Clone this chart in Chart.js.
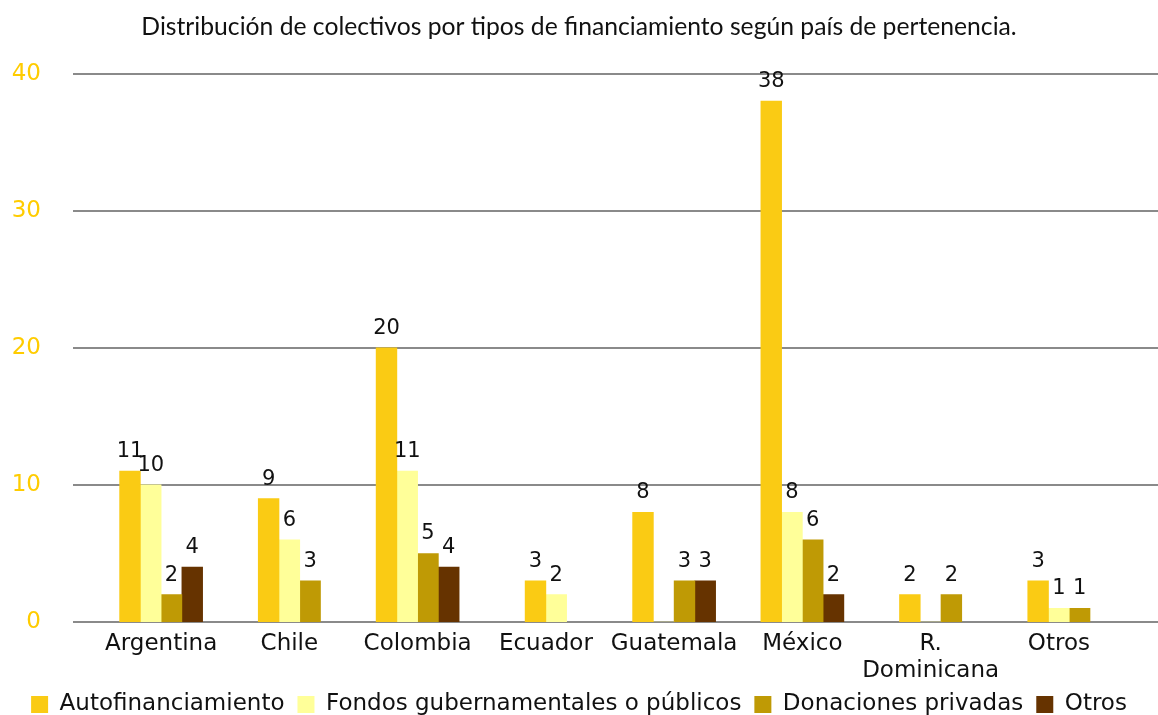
<!DOCTYPE html>
<html>
<head>
<meta charset="utf-8">
<script src="https://cdn.jsdelivr.net/npm/chart.js@4.4.1/dist/chart.umd.min.js"></script>
<style>
  html, body { margin: 0; padding: 0; background: #fff; }
  #wrap { width: 1158px; height: 715px; position: relative; }
</style>
</head>
<body>
<div id="wrap"><canvas id="chart"></canvas></div>
<script>
// Data.
// null = no bar and no slot kept (the group is re-centred), 0 = empty slot kept.
const categories = ['Argentina', 'Chile', 'Colombia', 'Ecuador', 'Guatemala', 'México', ['R.', 'Dominicana'], 'Otros'];
const autofinanciamiento = [11, 9, 20, 3, 8, 38, 2, 3];
const fondosPublicos = [10, 6, 11, 2, 0, 8, 0, 1];
const donacionesPrivadas = [2, 3, 5, null, 3, 6, 2, 1];
const otros = [4, null, 4, null, 3, 2, null, null];
const yTicks = [0, 10, 20, 30, 40];

const textFont = { family: 'DejaVu Sans', size: 23 };
const valueFont = { family: 'DejaVu Sans', size: 21 };

// horizontal grid lines run wider than the category band
const gridLines = {
  id: 'gridLines',
  beforeDatasetsDraw(chart) {
    const y = chart.scales.y;
    const ctx = chart.ctx;
    ctx.save();
    ctx.strokeStyle = '#8a8a8a';
    ctx.lineWidth = 2;
    yTicks.forEach((v) => {
      const py = Math.round(y.getPixelForValue(v));
      ctx.beginPath();
      ctx.moveTo(73, py);
      ctx.lineTo(chart.width, py);
      ctx.stroke();
    });
    ctx.restore();
  },
};

// value labels above bars, zeros left out
const valueLabels = {
  id: 'valueLabels',
  afterDatasetsDraw(chart) {
    const ctx = chart.ctx;
    ctx.save();
    ctx.font = `${valueFont.size}px ${valueFont.family}`;
    ctx.fillStyle = '#111';
    ctx.textAlign = 'center';
    ctx.textBaseline = 'alphabetic';
    chart.data.datasets.forEach((ds, i) => {
      chart.getDatasetMeta(i).data.forEach((bar, j) => {
        const v = ds.data[j];
        if (!v) return;
        ctx.fillText(String(v), bar.x, bar.y - 14);
      });
    });
    ctx.restore();
  },
};

new Chart(document.getElementById('chart'), {
  type: 'bar',
  data: {
    labels: categories,
    datasets: [
      { label: 'Autofinanciamiento', data: autofinanciamiento, backgroundColor: '#FACB14' },
      { label: 'Fondos gubernamentales o públicos', data: fondosPublicos, backgroundColor: '#FFFF99' },
      { label: 'Donaciones privadas', data: donacionesPrivadas, backgroundColor: '#BF9A05' },
      { label: 'Otros', data: otros, backgroundColor: '#663300' },
    ],
  },
  options: {
    responsive: true,
    maintainAspectRatio: false,
    animation: false,
    datasets: { bar: { barThickness: 20.75, skipNull: true } },
    layout: { padding: { top: 0, right: 0, bottom: -11, left: 0 } },
    scales: {
      x: {
        grid: { display: false },
        border: { display: false },
        ticks: { color: '#111', font: textFont, padding: 0, maxRotation: 0, autoSkip: false },
        afterFit: (s) => { s.height = 58; },
      },
      y: {
        min: 0,
        max: 40,
        grid: { display: false, drawTicks: false },
        border: { display: false },
        ticks: { stepSize: 10, color: '#FFCC00', font: textFont, padding: 56 },
        afterFit: (s) => { s.width = 97; },
      },
      // empty spacer on the right so the bars sit left of the grid end
      spacer: {
        position: 'right',
        grid: { display: false },
        border: { display: false },
        ticks: { display: false },
        afterFit: (s) => { s.width = 35; },
      },
    },
    plugins: {
      title: {
        display: true,
        text: 'Distribución de colectivos por tipos de financiamiento según país de pertenencia.',
        color: '#111',
        font: { family: 'Lato', size: 24.7, weight: 'normal', lineHeight: 1.2 },
        padding: { top: 12, bottom: 32 },
      },
      legend: {
        position: 'bottom',
        labels: { color: '#111', font: textFont, boxWidth: 17, boxHeight: 17, padding: 13 },
      },
      tooltip: { enabled: false },
    },
  },
  plugins: [gridLines, valueLabels],
});
</script>
</body>
</html>
